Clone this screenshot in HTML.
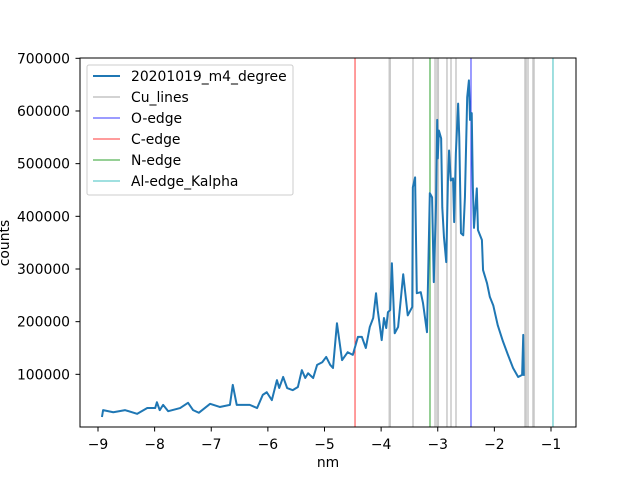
<!DOCTYPE html>
<html><head><meta charset="utf-8"><style>
body{margin:0;background:#fff}
svg{display:block;font-family:"DejaVu Sans","Liberation Sans",sans-serif}
</style></head><body>
<svg id="chart" width="640" height="480"></svg>
<script>
const xs=[-8.93,-8.91,-8.73,-8.52,-8.31,-8.13,-7.99,-7.96,-7.91,-7.85,-7.76,-7.55,-7.41,-7.32,-7.22,-7.02,-6.85,-6.67,-6.62,-6.55,-6.32,-6.19,-6.09,-6.02,-5.93,-5.84,-5.80,-5.73,-5.66,-5.56,-5.47,-5.40,-5.34,-5.29,-5.20,-5.13,-5.04,-4.97,-4.90,-4.85,-4.78,-4.69,-4.59,-4.50,-4.41,-4.34,-4.27,-4.20,-4.14,-4.09,-4.06,-3.99,-3.95,-3.91,-3.88,-3.84,-3.81,-3.76,-3.70,-3.61,-3.53,-3.45,-3.44,-3.40,-3.37,-3.30,-3.26,-3.19,-3.14,-3.10,-3.07,-3.03,-3.01,-3.00,-2.98,-2.94,-2.92,-2.89,-2.85,-2.82,-2.80,-2.77,-2.73,-2.71,-2.68,-2.64,-2.62,-2.59,-2.55,-2.52,-2.48,-2.45,-2.43,-2.40,-2.38,-2.36,-2.31,-2.29,-2.22,-2.20,-2.13,-2.08,-2.02,-1.94,-1.85,-1.76,-1.67,-1.58,-1.51,-1.49,-1.48];
const counts=[19,32,28,32,25,36,36,47,32,42,30,36,46,32,27,44,38,42,80,42,42,36,61,66,51,89,74,95,74,70,76,108,93,102,93,118,123,133,118,112,197,127,142,137,171,171,150,190,207,254,222,165,207,188,218,222,311,178,190,290,212,228,455,474,254,256,235,180,444,436,275,425,583,510,563,548,417,360,313,468,525,468,472,389,520,614,550,368,364,436,626,658,583,596,455,378,453,374,355,298,273,247,231,193,163,137,112,95,99,175,97].map(v=>v*1000);
const cuLines=[-3.856,-3.84,-3.437,-3.048,-3.013,-2.99,-2.837,-2.766,-2.678,-1.459,-1.44,-1.406,-1.318,-1.30];
const oEdge=[-2.413];
const cEdge=[-4.461];
const nEdge=[-3.137];
const alEdge=[-0.965];
const xTicks=[-9,-8,-7,-6,-5,-4,-3,-2,-1];
const yTicks=[100000,200000,300000,400000,500000,600000,700000];
const legendLabels=["20201019_m4_degree","Cu_lines","O-edge","C-edge","N-edge","Al-edge_Kalpha"];

const L=80,R=576,T=58,B=427;
const X=v=>98+(v+9)*56.625;
const Y=v=>427-v/100000*52.67;
const svg=document.getElementById('chart');
const NS='http://www.w3.org/2000/svg';
function mk(tag,attrs,parent){const e=document.createElementNS(NS,tag);for(const k in attrs)e.setAttribute(k,attrs[k]);(parent||svg).appendChild(e);return e;}

function vlines(arr,color,w,name){arr.forEach(v=>{const l=mk('line',{x1:X(v),x2:X(v),y1:T,y2:B,stroke:color,'stroke-width':w});

});}
vlines(cuLines,'#c8c8c8',1.5,'cu-line');
vlines(oEdge,'#3a3aff',1,'o-edge-line');
vlines(cEdge,'#ff3a3a',1,'c-edge-line');
vlines(nEdge,'#2ca02c',1,'n-edge-line');
vlines(alEdge,'#40c0c0',1,'al-edge-line');

const p=mk('polyline',{points:xs.map((v,i)=>X(v)+','+Y(counts[i])).join(' '),fill:'none',stroke:'#1f77b4','stroke-width':2,'stroke-linejoin':'round'});



const ax=mk('rect',{x:L,y:T,width:R-L,height:B-T,fill:'none',stroke:'#000','stroke-width':1});



xTicks.forEach(t=>{mk('line',{x1:X(t),x2:X(t),y1:B,y2:B+4.5,stroke:'#000'});
const tx=mk('text',{x:X(t),y:B+22,'text-anchor':'middle','font-size':13.9});tx.textContent=t<0?'\u2212'+Math.abs(t):t;

});
yTicks.forEach(t=>{mk('line',{x1:L,x2:L-4.5,y1:Y(t),y2:Y(t),stroke:'#000'});
const tx=mk('text',{x:L-10,y:Y(t)+5,'text-anchor':'end','font-size':13.9});tx.textContent=t;

});

const xl=mk('text',{x:328,y:467,'text-anchor':'middle','font-size':13.9});xl.textContent='nm';


const yl=mk('text',{x:0,y:0,'text-anchor':'middle','font-size':13.9,transform:'translate(9,243) rotate(-90)'});yl.textContent='counts';



const lg=mk('g',{});


mk('rect',{x:87,y:65,width:206,height:130,rx:2,fill:'#fff','fill-opacity':0.8,stroke:'#ccc'},lg);
const lcol=['#1f77b4','#d3d3d3','#3a3aff','#ff3a3a','#2ca02c','#40c0c0'];
const lw=[2,2,1,1,1,1];
legendLabels.forEach((s,i)=>{const y=76+i*21;
const ln=mk('line',{x1:93,x2:120,y1:y,y2:y,stroke:lcol[i],'stroke-width':lw[i]},lg);


const tx=mk('text',{x:131,y:y+5,'font-size':13.9},lg);tx.textContent=s;

});
</script>
</body></html>
